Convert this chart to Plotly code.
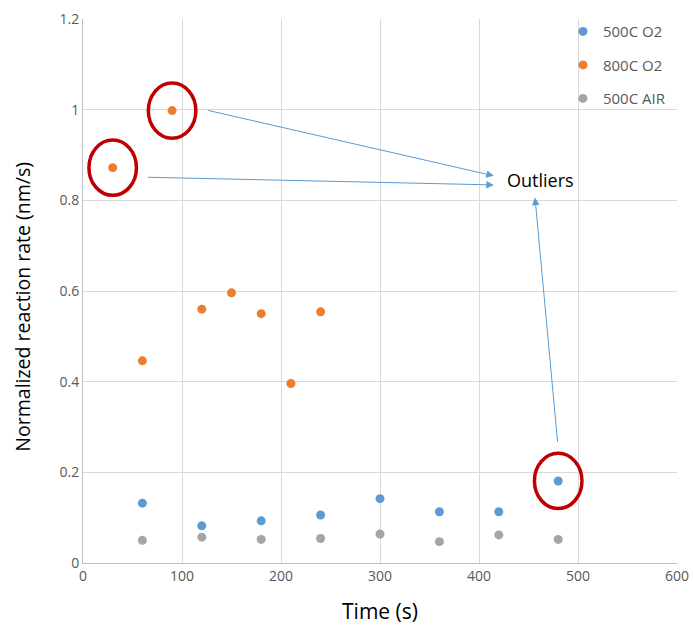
import plotly.graph_objects as go

# Measurement times (s) and normalized reaction rates (nm/s)
t_500_o2 = [60, 120, 180, 240, 300, 360, 420, 480]
r_500_o2 = [0.132, 0.082, 0.093, 0.106, 0.142, 0.113, 0.113, 0.181]

t_800_o2 = [30, 60, 90, 120, 150, 180, 210, 240]
r_800_o2 = [0.872, 0.446, 0.998, 0.560, 0.596, 0.550, 0.396, 0.554]

t_500_air = [60, 120, 180, 240, 300, 360, 420, 480]
r_500_air = [0.050, 0.057, 0.052, 0.054, 0.064, 0.047, 0.062, 0.052]

x_ticks = [0, 100, 200, 300, 400, 500, 600]
y_ticks = [0, 0.2, 0.4, 0.6, 0.8, 1.0, 1.2]
y_tick_text = ["0", "0.2", "0.4", "0.6", "0.8", "1", "1.2"]

# Flagged points: (series times, series rates, index)
outliers = [(t_800_o2, r_800_o2, 0), (t_800_o2, r_800_o2, 2), (t_500_o2, r_500_o2, 7)]
label_text = "Outliers"
label_pos = (426, 0.845)

BLUE = "#5b9bd5"
ORANGE = "#ed7d31"
GRAY = "#a5a5a5"
RED = "#c00000"
FONT = "Open Sans, Liberation Sans, sans-serif"

fig = go.Figure()
for name, xs, ys, col, grp in [
    ("500C O2", t_500_o2, r_500_o2, BLUE, "a"),
    ("800C O2", t_800_o2, r_800_o2, ORANGE, "b"),
    ("500C AIR", t_500_air, r_500_air, GRAY, "c"),
]:
    fig.add_trace(go.Scatter(
        x=xs, y=ys, mode="markers", name=name, legendgroup=grp,
        marker=dict(color=col, size=9, line=dict(width=0)),
    ))

# Red rings around flagged points
ring_rx, ring_ry = 24.0, 0.061
for xs, ys, i in outliers:
    fig.add_shape(type="circle", xref="x", yref="y",
                  x0=xs[i] - ring_rx, x1=xs[i] + ring_rx,
                  y0=ys[i] - ring_ry, y1=ys[i] + ring_ry,
                  line=dict(color=RED, width=3.5), layer="above")

# Callout text with arrows pointing to it
fig.add_annotation(x=label_pos[0], y=label_pos[1], xref="x", yref="y",
                   text=label_text, showarrow=False,
                   font=dict(family=FONT, size=18, color="#000000"),
                   xanchor="left", yanchor="middle")

arrows = [
    ((125, 0.999), (415, 0.854)),
    ((64, 0.851), (415, 0.834)),
    ((479.5, 0.264), (456.6, 0.806)),
]
for (tx, ty), (hx, hy) in arrows:
    fig.add_annotation(x=hx, y=hy, ax=tx, ay=ty, xref="x", yref="y",
                       axref="x", ayref="y", text="", showarrow=True,
                       arrowhead=2, arrowsize=1.5, arrowwidth=1,
                       arrowcolor=BLUE, standoff=0, startstandoff=0)

# Vertical axis title, set slightly below the plot centre
fig.add_annotation(x=-0.102, y=0.472, xref="paper", yref="paper",
                   text="Normalized reaction rate (nm/s)", textangle=-90,
                   showarrow=False, xanchor="center", yanchor="middle",
                   font=dict(family=FONT, size=19.5, color="#000000"))

fig.update_layout(
    width=693, height=632,
    margin=dict(l=83, r=16, t=19, b=69, autoexpand=False),
    paper_bgcolor="white", plot_bgcolor="white",
    font=dict(family=FONT, color="#595959"),
    showlegend=True,
    legend=dict(x=0.808, y=1.007, xanchor="left", yanchor="top",
                bgcolor="rgba(255,255,255,0)", borderwidth=0,
                font=dict(family=FONT, size=15, color="#595959"),
                tracegroupgap=11, itemwidth=30),
    xaxis=dict(range=[0, 600], tickvals=x_ticks, ticktext=[str(v) for v in x_ticks],
               automargin=False,
               showgrid=True, gridcolor="#d9d9d9", gridwidth=1,
               zeroline=False, showline=True, linecolor="#bfbfbf", linewidth=1,
               ticks="", tickfont=dict(size=14, color="#595959"),
               title=dict(text="Time (s)", font=dict(family=FONT, size=21, color="#000000"),
                          standoff=20)),
    yaxis=dict(range=[0, 1.2], tickvals=y_ticks, ticktext=y_tick_text,
               automargin=False,
               showgrid=True, gridcolor="#d9d9d9", gridwidth=1,
               zeroline=False, showline=True, linecolor="#bfbfbf", linewidth=1,
               ticks="", tickfont=dict(size=14, color="#595959")),
)

fig.write_html("out.html")
